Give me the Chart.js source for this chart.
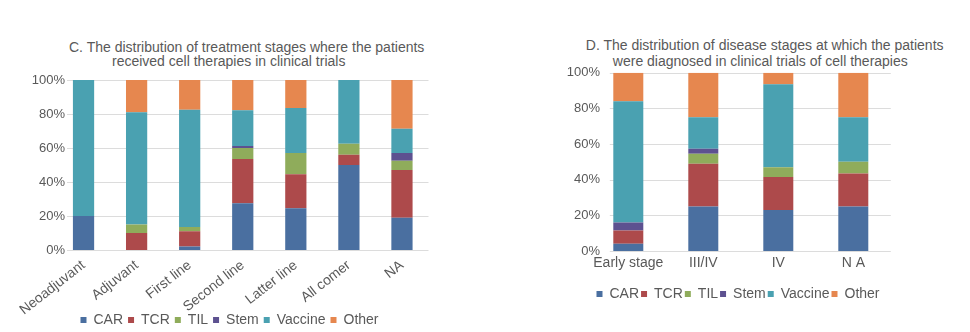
<!DOCTYPE html>
<html><head><meta charset="utf-8">
<script src="https://cdn.jsdelivr.net/npm/chart.js@4/dist/chart.umd.min.js"></script>
<style>
html,body{margin:0;padding:0;background:#fff;width:970px;height:332px;overflow:hidden;position:relative;font-family:"Liberation Sans",Arial,sans-serif;}
.t{position:absolute;white-space:nowrap;font-size:14px;line-height:14px;color:#595959;transform:translateX(-50%);}
canvas{position:absolute;top:0;}
</style></head><body>
<div class="t" style="left:246.7px;top:40px">C. The distribution of treatment stages where the patients</div>
<div class="t" style="left:228.7px;top:53.7px">received cell therapies in clinical trials</div>
<div class="t" style="left:764.7px;top:38px">D. The distribution of disease stages at which the patients</div>
<div class="t" style="left:760.3px;top:53.7px">were diagnosed in clinical trials of cell therapies</div>
<canvas id="c1" width="480" height="340" style="left:0;width:480px;height:340px"></canvas>
<canvas id="c2" width="490" height="340" style="left:480px;width:490px;height:340px"></canvas>
<script>
// ---- data ----
const seriesNames = ['CAR', 'TCR', 'TIL', 'Stem', 'Vaccine', 'Other'];
const seriesColors = ['#4a6fa0', '#ad4a4b', '#8fac5b', '#5d5190', '#4aa1b1', '#e6874f'];
const yTickValues = [0, 20, 40, 60, 80, 100];
const yTickLabels = ['0%', '20%', '40%', '60%', '80%', '100%'];

// Chart C: treatment stages
const stagesC = ['Neoadjuvant', 'Adjuvant', 'First line', 'Second line', 'Latter line', 'All comer', 'NA'];
const carC     = [20,   0,  2,   27.5, 24.5, 50,   19];
const tcrC     = [0,   10,  9,   26,   20,    6,   28];
const tilC     = [0,    5,  2.5,  6.5, 12.5,  6.5,  5.5];
const stemC    = [0,    0,  0,    1.2,  0,    0,    4.5];
const vaccineC = [80,  66, 69,   21,   26.5, 37.5, 14.3];
const otherC   = [0,   19, 17.5, 17.8, 16.5,  0,   28.7];

// Chart D: disease stages
const stagesD = ['Early stage', 'III/IV', 'IV', 'N A'];
const carD     = [4,   25,   23,   25];
const tcrD     = [7.5, 24,   18.5, 18.5];
const tilD     = [0,    5.5,  5.5,  6.5];
const stemD    = [4.5,  2.8,  0,    0];
const vaccineD = [68,  17.7, 46.5, 25];
const otherD   = [16,  25,    6.5, 25];

const FONT = '"Liberation Sans", Arial, sans-serif';
const TXT = '#595959';
const Y_FONT_SIZE = 13;

// widest y tick label, used to right-align the (unclipped, mirrored) labels
const mctx = document.createElement('canvas').getContext('2d');
mctx.font = Y_FONT_SIZE + 'px ' + FONT;
const widestY = Math.max(...yTickLabels.map(l => mctx.measureText(l).width));

const insetGrid = {
  id: 'insetGrid',
  afterLayout(chart) {
    // let long rotated category labels run below the axis box without clipping
    chart.scales.x.bottom = chart.height;
  },
  beforeDatasetsDraw(chart, args, opts) {
    const {ctx, chartArea, scales: {y}} = chart;
    ctx.save();
    ctx.strokeStyle = opts.color;
    ctx.lineWidth = 1;
    y.ticks.forEach(t => {
      const py = Math.round(y.getPixelForValue(t.value)) + 0.5;
      ctx.beginPath();
      ctx.moveTo(chartArea.left + opts.inset, py);
      ctx.lineTo(chartArea.right, py);
      ctx.stroke();
    });
    ctx.restore();
  }
};

function makeChart(id, labels, series, cfg) {
  return new Chart(document.getElementById(id), {
    type: 'bar',
    data: {
      labels: labels,
      datasets: seriesNames.map((n, i) => ({
        label: n, data: series[i], backgroundColor: seriesColors[i],
        borderWidth: 0, barPercentage: 0.4, categoryPercentage: 1
      }))
    },
    options: {
      responsive: false, animation: false, devicePixelRatio: 1,
      layout: {padding: cfg.padding},
      plugins: {
        title: {display: false},
        tooltip: {enabled: false},
        legend: {
          position: 'bottom',
          labels: {boxWidth: 6, boxHeight: 6, padding: cfg.legendPad, color: TXT, font: {family: FONT, size: 14}}
        },
        insetGrid: {inset: cfg.inset, color: '#dcdcdc'}
      },
      scales: {
        x: {
          stacked: true,
          grid: {display: false, drawTicks: false},
          border: {display: false},
          ticks: {autoSkip: false, minRotation: cfg.rot, maxRotation: cfg.rot, padding: cfg.xPad, color: TXT, font: {family: FONT, size: 14}},
          afterFit(s) { s.height = cfg.xH; s.paddingLeft = 0; s.paddingRight = 0; }
        },
        y: {
          stacked: true, min: 0, max: 100,
          grid: {display: false, drawTicks: false},
          border: {display: false},
          afterBuildTicks(s) { s.ticks = yTickValues.map(v => ({value: v})); },
          ticks: {mirror: true, crossAlign: 'far', padding: cfg.labelRight - cfg.areaLeft - widestY,
                  color: TXT, font: {family: FONT, size: Y_FONT_SIZE},
                  callback: (v) => yTickLabels[yTickValues.indexOf(v)]},
          afterFit(s) { s.width = cfg.yW; s.paddingTop = 0; s.paddingBottom = 0; }
        }
      }
    },
    plugins: [insetGrid]
  });
}

makeChart('c1', stagesC, [carC, tcrC, tilC, stemC, vaccineC, otherC], {
  padding: {left: 30.5, right: 51.5, top: 80, bottom: 3},
  yW: 26.5, areaLeft: 57, labelRight: 65, xH: 58, legendPad: 5, rot: 38, inset: 10, xPad: 7
});
makeChart('c2', stagesD, [carD, tcrD, tilD, stemD, vaccineD, otherD], {
  padding: {left: 105.2, right: 79.2, top: 72.7, bottom: 29},
  yW: 5.6, areaLeft: 110.8, labelRight: 120, xH: 34, legendPad: 2, rot: 0, inset: 19, xPad: 4
});
</script>
</body></html>
